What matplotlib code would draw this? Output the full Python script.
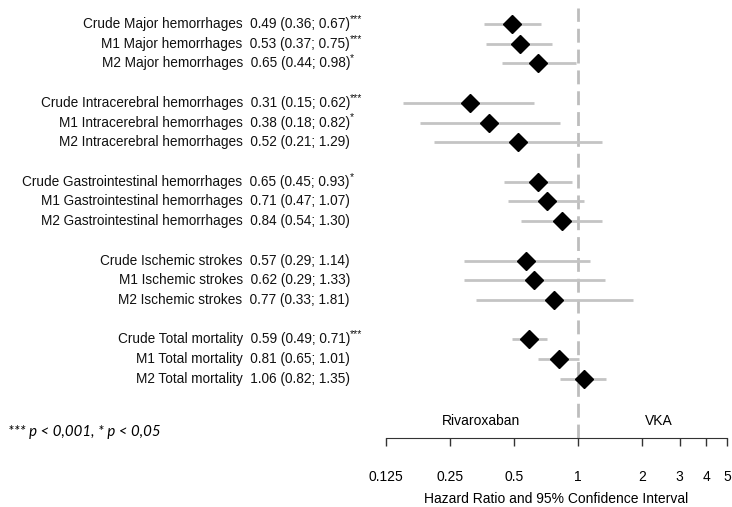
import numpy as np
import matplotlib.pyplot as plt
from matplotlib import transforms

plt.rcParams['font.family'] = ['Liberation Sans', 'DejaVu Sans']

# rows from top to bottom; None marks a blank spacer row
names = ['Crude Major hemorrhages', 'M1 Major hemorrhages', 'M2 Major hemorrhages', None,
         'Crude Intracerebral hemorrhages', 'M1 Intracerebral hemorrhages', 'M2 Intracerebral hemorrhages', None,
         'Crude Gastrointestinal hemorrhages', 'M1 Gastrointestinal hemorrhages', 'M2 Gastrointestinal hemorrhages', None,
         'Crude Ischemic strokes', 'M1 Ischemic strokes', 'M2 Ischemic strokes', None,
         'Crude Total mortality', 'M1 Total mortality', 'M2 Total mortality']
hr = [0.49, 0.53, 0.65, None, 0.31, 0.38, 0.52, None, 0.65, 0.71, 0.84, None,
      0.57, 0.62, 0.77, None, 0.59, 0.81, 1.06]
lo = [0.36, 0.37, 0.44, None, 0.15, 0.18, 0.21, None, 0.45, 0.47, 0.54, None,
      0.29, 0.29, 0.33, None, 0.49, 0.65, 0.82]
hi = [0.67, 0.75, 0.98, None, 0.62, 0.82, 1.29, None, 0.93, 1.07, 1.30, None,
      1.14, 1.33, 1.81, None, 0.71, 1.01, 1.35]
stars = ['***', '***', '*', None, '***', '*', '', None, '*', '', '', None,
         '', '', '', None, '***', '', '']

ticks = [0.125, 0.25, 0.5, 1, 2, 3, 4, 5]
tick_labels = ['0.125', '0.25', '0.5', '1', '2', '3', '4', '5']

fig = plt.figure(figsize=(7.32, 5.07), dpi=100)
ax = fig.add_axes([386 / 732, 1 - 438 / 507, 341 / 732, 430 / 507])

ax.set_xscale('log', base=2)
ax.set_xlim(0.125, 5)
ax.set_ylim(21.0, -0.81)

ax.axvline(1, color='#bdbdbd', lw=2, dashes=(5, 2.5), zorder=1)

for i, name in enumerate(names):
    if name is None:
        continue
    ax.plot([lo[i], hi[i]], [i, i], color='#c4c4c4', lw=2, solid_capstyle='butt', zorder=2)
    ax.plot(hr[i], i, marker='D', color='black', markersize=9, zorder=3)

# row labels, right aligned left of the plot
lab_tr = transforms.blended_transform_factory(fig.transFigure, ax.transData)
x_lab = 350 / 732
for i, name in enumerate(names):
    if name is None:
        continue
    s = f'{name}  {hr[i]:.2f} ({lo[i]:.2f}; {hi[i]:.2f})'
    ax.text(x_lab, i, s, transform=lab_tr, ha='right', va='center', fontsize=9.8, color='#111111')
    if stars[i]:
        star_tr = transforms.offset_copy(lab_tr, fig=fig, x=0, y=5, units='dots')
        ax.text(x_lab, i, stars[i], transform=star_tr, ha='left', va='center', fontsize=7.5, color='#111111')

for sp in ['top', 'right', 'left']:
    ax.spines[sp].set_visible(False)
ax.spines['bottom'].set_color('#333333')
ax.set_yticks([])
ax.set_xticks(ticks)
ax.set_xticklabels(tick_labels)
ax.xaxis.set_minor_locator(plt.NullLocator())
ax.tick_params(axis='x', length=6, width=1, color='#333333', pad=17, labelsize=10)
ax.set_xlabel('Hazard Ratio and 95% Confidence Interval', fontsize=10, labelpad=6)

side_tr = transforms.blended_transform_factory(ax.transData, fig.transFigure)
ax.text(0.35, 1 - 421 / 507, 'Rivaroxaban', transform=side_tr, ha='center', va='center', fontsize=10)
ax.text(2.4, 1 - 421 / 507, 'VKA', transform=side_tr, ha='center', va='center', fontsize=10)

fig.text(8 / 732, 1 - 432 / 507, '*** p < 0,001, * p < 0,05', fontsize=10.8, style='italic',
         family=['Lato', 'DejaVu Sans'], va='center', ha='left')

fig.savefig('out.png', dpi=100)
